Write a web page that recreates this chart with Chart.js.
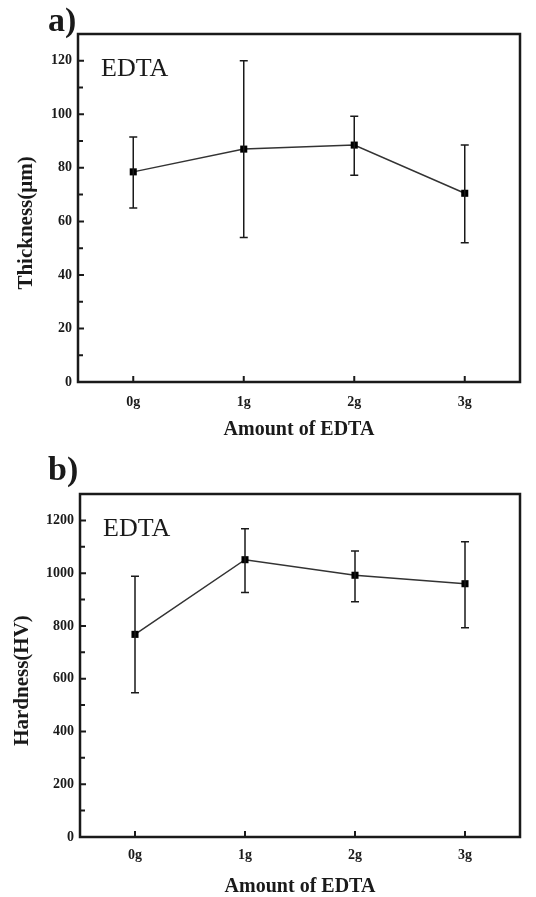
<!DOCTYPE html>
<html>
<head>
<meta charset="utf-8">
<script src="https://cdn.jsdelivr.net/npm/chart.js@4.4.1/dist/chart.umd.min.js"></script>
<style>
  body { margin: 0; background: #fff; width: 536px; height: 897px; overflow: hidden; }
  .panel { position: absolute; left: 0; width: 536px; }
  #panelA { top: 0; height: 447px; }
  #panelB { top: 447px; height: 450px; }
</style>
</head>
<body>
<div class="panel" id="panelA"><canvas id="thicknessChart" width="536" height="447"></canvas></div>
<div class="panel" id="panelB"><canvas id="hardnessChart" width="536" height="450"></canvas></div>
<script>
// data
const edtaAmounts = ['0g', '1g', '2g', '3g'];

const thickness = [78.5, 87, 88.5, 70.5];
const thicknessLow = [65, 54, 77.2, 52];
const thicknessHigh = [91.5, 120, 99.3, 88.5];

const hardness = [768, 1051, 992, 960];
const hardnessLow = [547, 927, 892, 793];
const hardnessHigh = [988, 1168, 1084, 1119];

const SERIF = "'Liberation Serif', 'Times New Roman', serif";
const INK = '#1a1a1a';

// frame, inward ticks, error bars, panel letter, inset label, y title
const figDecor = {
    id: 'figDecor',
    afterDatasetsDraw(chart) {
        const opts = chart.options.plugins.figDecor;
        const ctx = chart.ctx;
        const area = chart.chartArea;
        const x = chart.scales.x;
        const y = chart.scales.y;
        const step = opts.step;

        ctx.save();
        // error bars
        ctx.strokeStyle = INK;
        ctx.lineWidth = 1.5;
        opts.low.forEach((lo, i) => {
            const px = x.getPixelForValue(i);
            const yLo = y.getPixelForValue(lo);
            const yHi = y.getPixelForValue(opts.high[i]);
            ctx.beginPath();
            ctx.moveTo(px, yLo); ctx.lineTo(px, yHi);
            ctx.moveTo(px - 4, yLo); ctx.lineTo(px + 4, yLo);
            ctx.moveTo(px - 4, yHi); ctx.lineTo(px + 4, yHi);
            ctx.stroke();
        });

        // inward ticks
        ctx.lineWidth = 2;
        ctx.beginPath();
        for (let v = 0; v <= y.max; v += step / 2) {
            const py = y.getPixelForValue(v);
            const len = (v % step === 0) ? 6 : 5;
            ctx.moveTo(area.left, py); ctx.lineTo(area.left + len, py);
        }
        x.ticks.forEach((t, i) => {
            const px = x.getPixelForTick(i);
            ctx.moveTo(px, area.bottom); ctx.lineTo(px, area.bottom - 6);
        });
        ctx.stroke();

        // frame
        ctx.lineWidth = 2.5;
        ctx.strokeRect(area.left, area.top, area.right - area.left, area.bottom - area.top);

        // texts
        ctx.fillStyle = INK;
        ctx.textBaseline = 'alphabetic';
        ctx.textAlign = 'left';
        ctx.font = 'bold 34px ' + SERIF;
        ctx.fillText(opts.panel, 48, opts.panelBase);

        ctx.font = '26px ' + SERIF;
        ctx.fillText('EDTA', area.left + 23, area.top + 42);

        ctx.save();
        ctx.translate(opts.yTitleX, (area.top + area.bottom) / 2 + 15);
        ctx.rotate(-Math.PI / 2);
        ctx.textAlign = 'center';
        ctx.textBaseline = 'middle';
        ctx.font = 'bold 21px ' + SERIF;
        ctx.fillText(opts.yTitle, 0, 0);
        ctx.restore();

        ctx.restore();
    }
};

function makeChart(canvasId, values, low, high, cfg) {
    const ctx = document.getElementById(canvasId).getContext('2d');
    return new Chart(ctx, {
        type: 'line',
        data: {
            labels: edtaAmounts,
            datasets: [{
                data: values,
                borderColor: '#333',
                borderWidth: 1.5,
                pointStyle: 'rect',
                pointRadius: 5,
                pointBackgroundColor: '#000',
                pointBorderColor: '#000',
                pointBorderWidth: 0,
                tension: 0
            }]
        },
        options: {
            responsive: false,
            animation: false,
            layout: { padding: { top: cfg.top, right: 16, left: 0, bottom: 0 } },
            plugins: {
                legend: { display: false },
                tooltip: { enabled: false },
                figDecor: {
                    low: low,
                    high: high,
                    step: cfg.step,
                    panel: cfg.panel,
                    panelBase: cfg.panelBase,
                    yTitle: cfg.yTitle,
                    yTitleX: cfg.yTitleX
                }
            },
            scales: {
                x: {
                    type: 'category',
                    offset: true,
                    grid: { display: false, drawTicks: false },
                    border: { display: false },
                    ticks: {
                        color: INK,
                        padding: cfg.xTickPad,
                        font: { family: SERIF, size: 14, weight: 'bold' },
                        maxRotation: 0,
                        minRotation: 0
                    },
                    title: {
                        display: true,
                        text: 'Amount of EDTA',
                        color: INK,
                        font: { family: SERIF, size: 20, weight: 'bold', lineHeight: 1 },
                        padding: { top: 0, bottom: cfg.xTitlePad }
                    },
                    afterFit: s => { s.height = cfg.xHeight; }
                },
                y: {
                    min: 0,
                    max: cfg.max,
                    grid: { display: false, drawTicks: false },
                    border: { display: false },
                    ticks: {
                        stepSize: cfg.step,
                        color: INK,
                        padding: 6,
                        font: { family: SERIF, size: 14, weight: 'bold' },
                        callback: v => String(v)
                    },
                    afterBuildTicks: s => {
                        s.ticks = s.ticks.filter(t => t.value % cfg.step === 0);
                    },
                    afterFit: s => { s.width = cfg.yWidth; }
                }
            }
        },
        plugins: [figDecor]
    });
}

document.addEventListener('DOMContentLoaded', function() {
    makeChart('thicknessChart', thickness, thicknessLow, thicknessHigh, {
        top: 34, max: 130, step: 20, yWidth: 78, xHeight: 65,
        xTickPad: 12, xTitlePad: 7,
        panel: 'a)', panelBase: 31, yTitle: 'Thickness(\u03bcm)', yTitleX: 27
    });
    makeChart('hardnessChart', hardness, hardnessLow, hardnessHigh, {
        top: 47, max: 1300, step: 200, yWidth: 80, xHeight: 60,
        xTickPad: 10, xTitlePad: 0,
        panel: 'b)', panelBase: 33, yTitle: 'Hardness(HV)', yTitleX: 23
    });
});
</script>
</body>
</html>
